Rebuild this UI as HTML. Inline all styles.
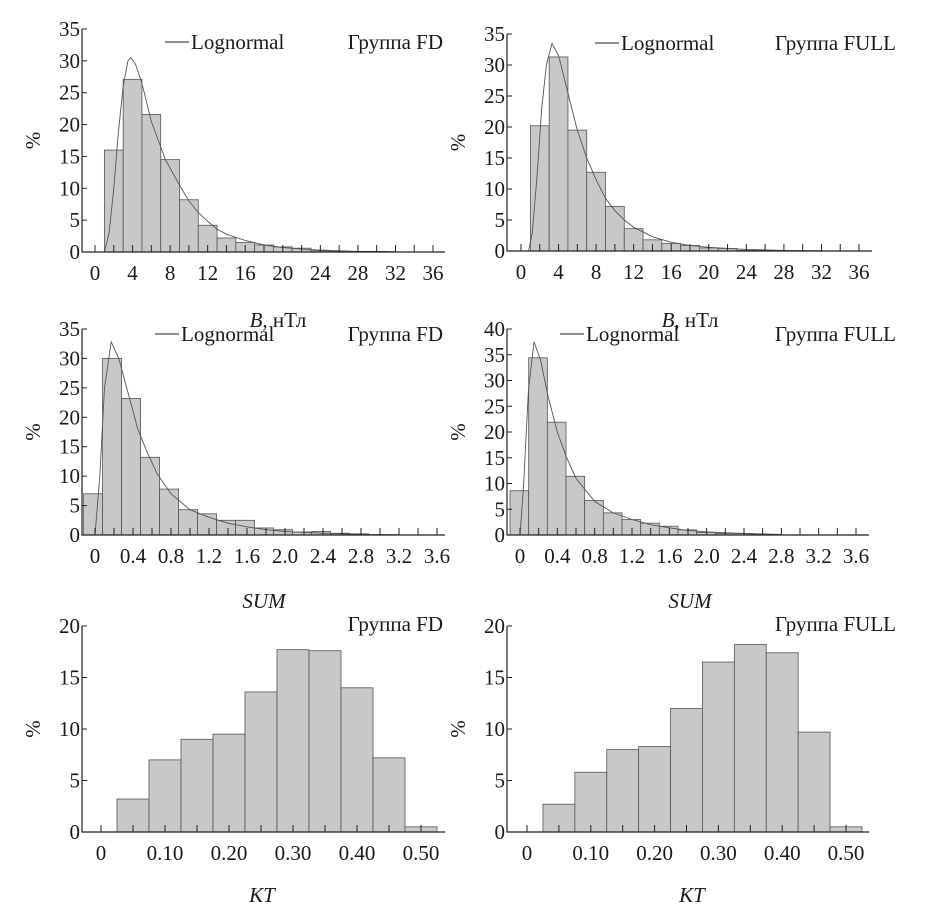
<!DOCTYPE html>
<html><head><meta charset="utf-8"><style>
body{margin:0;background:#fff;}
svg{display:block;font-family:"Liberation Serif","Noto Serif CJK SC",serif;}
text{fill:#1a1a1a;}
</style></head><body>
<svg id="c" width="934" height="919" viewBox="0 0 934 919" xmlns="http://www.w3.org/2000/svg"></svg>
<script>
// ---- data ----
const bFdBins = [16, 27.1, 21.6, 14.5, 8.2, 4.2, 2.2, 1.5, 1.1, 0.8, 0.6, 0.2, 0.15, 0.1, 0.1];
const bFullBins = [20.2, 31.3, 19.5, 12.7, 7.2, 3.6, 1.8, 1.2, 0.9, 0.5, 0.4, 0.1, 0.1];
const sumFdBins = [7, 30, 23.2, 13.2, 7.8, 4.3, 3.6, 2.5, 2.5, 1.2, 0.9, 0.5, 0.6, 0.3, 0.2];
const sumFullBins = [8.6, 34.4, 21.9, 11.4, 6.7, 4.3, 3.0, 2.3, 1.7, 1.0, 0.5, 0.3, 0.3, 0.1];
const ktFdBins = [3.2, 7.0, 9.0, 9.5, 13.6, 17.7, 17.6, 14.0, 7.2, 0.5];
const ktFullBins = [2.7, 5.8, 8.0, 8.3, 12.0, 16.5, 18.2, 17.4, 9.7, 0.5];

const bFdCurveX = [1,1.5,2,2.5,3,3.5,3.8,4.3,5,6,7,7.5,9,10,11,12,13,14,16,18,20,22,24,28,32];
const bFdCurveY = [0,3,10,19,26,30,30.5,29.5,26.5,20.5,16.5,14.5,10.5,8,6.2,4.8,3.6,2.8,1.8,1.1,0.7,0.45,0.3,0.1,0.05];
const bFullCurveX = [0.8,1.2,1.7,2.2,2.7,3.3,4,5,6,7,8,9,10,11,12,14,16,18,20,24,28,32];
const bFullCurveY = [0,3,12,23,30,33.5,31.5,25.5,19.5,15,11.5,8.5,6.5,5,3.8,2.3,1.4,0.9,0.6,0.25,0.1,0.05];
const sumFdCurveX = [0,0.05,0.1,0.17,0.25,0.35,0.45,0.55,0.65,0.8,1.0,1.2,1.4,1.6,1.8,2.0,2.4,2.8,3.2];
const sumFdCurveY = [0,10,25,32.8,30,24,18,14,10.5,7,4.3,3,2,1.4,0.9,0.6,0.3,0.1,0.05];
const sumFullCurveX = [0,0.04,0.09,0.15,0.22,0.3,0.4,0.5,0.6,0.8,1.0,1.2,1.4,1.6,1.8,2.0,2.4,2.8];
const sumFullCurveY = [0,10,28,37.5,34,27,20,15,11,6.5,4.3,3,2,1.4,0.9,0.6,0.3,0.1];

const bTickLabels = ["0","4","8","12","16","20","24","28","32","36"];
const sumTickLabels = ["0","0.4","0.8","1.2","1.6","2.0","2.4","2.8","3.2","3.6"];
const ktTickLabels = ["0","0.10","0.20","0.30","0.40","0.50"];

const NS = "http://www.w3.org/2000/svg";
const svg = document.getElementById('c');
const FS = 21;
function mk(tag, attrs, parent){
  const e = document.createElementNS(NS, tag);
  for (const k in attrs) e.setAttribute(k, attrs[k]);
  (parent||svg).appendChild(e);
  return e;
}

function panel(p){
  const g = mk('g', {});
  
  
  const X = v => p.x0 + (v - p.v0) / (p.v1 - p.v0) * (p.x1 - p.x0);
  const Y = v => p.base - v / p.ymax * (p.base - p.ytop);
  p.bins.forEach((v, i) => {
    const l = X(p.binStart + i * p.binW), r = X(p.binStart + (i + 1) * p.binW);
    const b = mk('rect', {x: l, y: Y(v), width: r - l, height: p.base - Y(v), fill: '#c8c8c8', stroke: '#555', 'stroke-width': 0.8}, g);
    
    
  });
  if (p.cx) {
    const d = p.cx.map((x, i) => (i ? 'L' : 'M') + X(x).toFixed(1) + ' ' + Y(p.cy[i]).toFixed(1)).join(' ');
    const c = mk('path', {d: d, fill: 'none', stroke: '#555', 'stroke-width': 0.9}, g);
    
    
  }
  const ax = mk('path', {d: `M${p.axX} ${p.ytop} L${p.axX} ${p.base} L${p.axEnd} ${p.base}`, fill: 'none', stroke: '#222', 'stroke-width': 1.2}, g);
  
  
  for (let v = 0; v <= p.ymax + 1e-9; v += p.ystep) {
    mk('line', {x1: p.axX, x2: p.axX + 5, y1: Y(v), y2: Y(v), stroke: '#222', 'stroke-width': 1}, g);
    const t = mk('text', {x: p.axX - 2, y: Y(v) + 7, 'text-anchor': 'end', 'font-size': FS}, g);
    t.textContent = String(v);
    
    
  }
  for (let v = p.v0; v <= p.v1 + 1e-9; v += p.minor) {
    mk('line', {x1: X(v), x2: X(v), y1: p.base, y2: p.base - 7, stroke: '#222', 'stroke-width': 1}, g);
  }
  p.labels.forEach((s, i) => {
    const v = p.v0 + i * (p.v1 - p.v0) / (p.labels.length - 1);
    const t = mk('text', {x: X(v), y: p.base + 28, 'text-anchor': 'middle', 'font-size': FS}, g);
    t.textContent = s;
    
    
  });
  const yt = mk('text', {x: 0, y: 0, 'text-anchor': 'middle', 'font-size': FS, transform: `translate(${p.axX - 42},${(p.ytop + p.base) / 2}) rotate(-90)`}, g);
  yt.textContent = '%';
  
  
  const xt = mk('text', {x: p.xtX, y: p.xtY, 'text-anchor': 'middle', 'font-size': FS}, g);
  if (p.xt === 'B') {
    const a = mk('tspan', {'font-style': 'italic'}, xt); a.textContent = 'B';
    const b = mk('tspan', {}, xt); b.textContent = ', нТл';
  } else { xt.setAttribute('font-style', 'italic'); xt.textContent = p.xt; }
  
  
  const gl = mk('text', {x: p.glX, y: p.glY, 'text-anchor': 'end', 'font-size': FS}, g);
  gl.textContent = p.group;
  
  
  if (p.legX) {
    const lg = mk('g', {}, g);
    
    
    mk('line', {x1: p.legX, x2: p.legX + 24, y1: p.glY - 7, y2: p.glY - 7, stroke: '#222', 'stroke-width': 1}, lg);
    const lt = mk('text', {x: p.legX + 26, y: p.glY, 'font-size': FS}, lg);
    lt.textContent = 'Lognormal';
  }
}

panel({name:'panel-b-fd', bins:bFdBins, binStart:1, binW:2, cx:bFdCurveX, cy:bFdCurveY,
  x0:95, x1:433, v0:0, v1:36, base:252, ytop:29, ymax:35, ystep:5, axX:82, axEnd:445, minor:2,
  labels:bTickLabels, xt:'B', xtX:278, xtY:327, group:'Группа FD', glX:443, glY:49, legX:165});
panel({name:'panel-b-full', bins:bFullBins, binStart:1, binW:2, cx:bFullCurveX, cy:bFullCurveY,
  x0:521, x1:859, v0:0, v1:36, base:251, ytop:34, ymax:35, ystep:5, axX:507, axEnd:872, minor:2,
  labels:bTickLabels, xt:'B', xtX:690, xtY:327, group:'Группа FULL', glX:896, glY:50, legX:595});
panel({name:'panel-sum-fd', bins:sumFdBins, binStart:-0.12, binW:0.2, cx:sumFdCurveX, cy:sumFdCurveY,
  x0:95, x1:437, v0:0, v1:3.6, base:535, ytop:329, ymax:35, ystep:5, axX:82, axEnd:445, minor:0.2,
  labels:sumTickLabels, xt:'SUM', xtX:264, xtY:608, group:'Группа FD', glX:443, glY:341, legX:155});
panel({name:'panel-sum-full', bins:sumFullBins, binStart:-0.107, binW:0.2, cx:sumFullCurveX, cy:sumFullCurveY,
  x0:520, x1:856, v0:0, v1:3.6, base:535, ytop:329, ymax:40, ystep:5, axX:507, axEnd:869, minor:0.2,
  labels:sumTickLabels, xt:'SUM', xtX:690, xtY:608, group:'Группа FULL', glX:896, glY:341, legX:560});
panel({name:'panel-kt-fd', bins:ktFdBins, binStart:0.025, binW:0.05,
  x0:101, x1:421, v0:0, v1:0.5, base:832, ytop:626, ymax:20, ystep:5, axX:82, axEnd:445, minor:0.05,
  labels:ktTickLabels, xt:'KT', xtX:262, xtY:902, group:'Группа FD', glX:443, glY:631});
panel({name:'panel-kt-full', bins:ktFullBins, binStart:0.025, binW:0.05,
  x0:527, x1:846, v0:0, v1:0.5, base:832, ytop:626, ymax:20, ystep:5, axX:507, axEnd:869, minor:0.05,
  labels:ktTickLabels, xt:'KT', xtX:692, xtY:902, group:'Группа FULL', glX:896, glY:631});
</script>
</body></html>
